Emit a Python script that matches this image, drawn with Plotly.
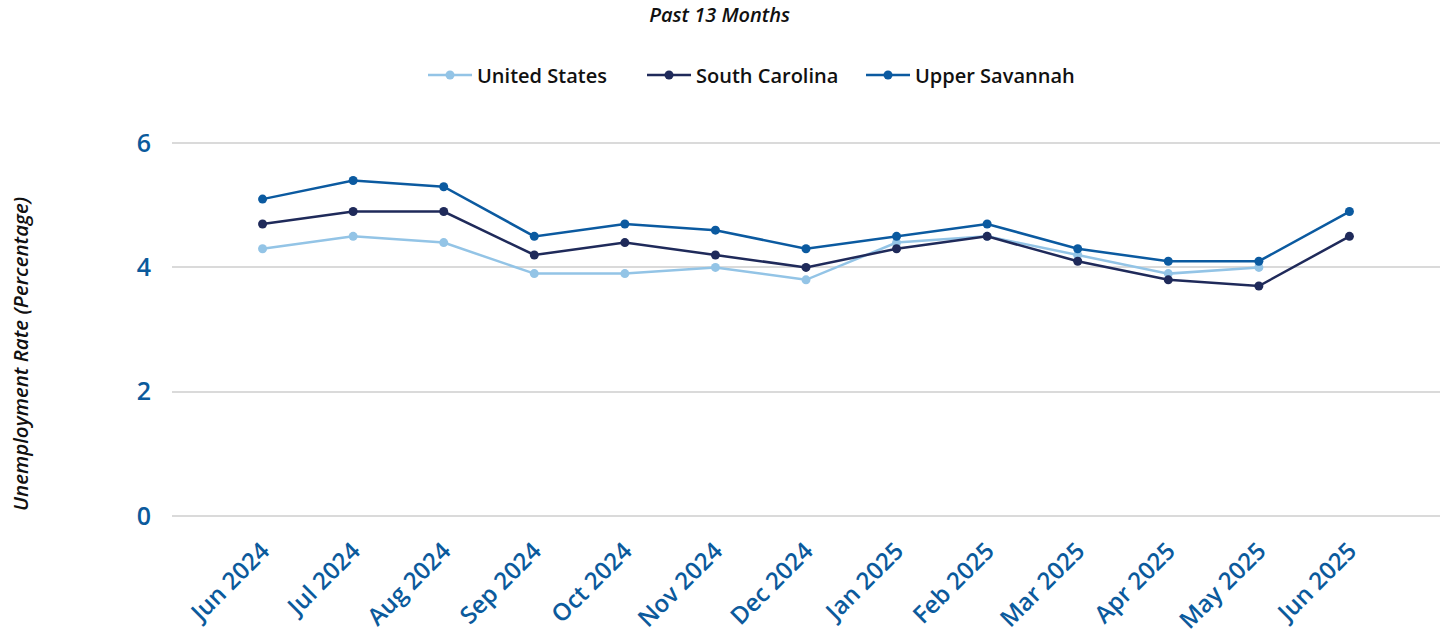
import plotly.graph_objects as go

months = ["Jun 2024", "Jul 2024", "Aug 2024", "Sep 2024", "Oct 2024", "Nov 2024", "Dec 2024",
          "Jan 2025", "Feb 2025", "Mar 2025", "Apr 2025", "May 2025", "Jun 2025"]
united_states = [4.3, 4.5, 4.4, 3.9, 3.9, 4.0, 3.8, 4.4, 4.5, 4.2, 3.9, 4.0, None]
south_carolina = [4.7, 4.9, 4.9, 4.2, 4.4, 4.2, 4.0, 4.3, 4.5, 4.1, 3.8, 3.7, 4.5]
upper_savannah = [5.1, 5.4, 5.3, 4.5, 4.7, 4.6, 4.3, 4.5, 4.7, 4.3, 4.1, 4.1, 4.9]
y_ticks = [0, 2, 4, 6]

FONT = "Open Sans, Noto Sans, sans-serif"
TICK_COLOR = "#0b5a9c"

series = [
    ("United States", united_states, "#93c4e6"),
    ("South Carolina", south_carolina, "#1f2a5a"),
    ("Upper Savannah", upper_savannah, "#0b5aa0"),
]

fig = go.Figure()
for name, vals, color in series:
    fig.add_trace(go.Scatter(
        x=months, y=vals, name=name, mode="lines+markers",
        line=dict(color=color, width=2.5),
        marker=dict(color=color, size=9),
        connectgaps=False,
    ))

fig.update_layout(
    width=1448, height=643,
    paper_bgcolor="white", plot_bgcolor="white",
    margin=dict(l=172, r=8, t=142, b=126, autoexpand=False),
    font=dict(family=FONT),
    title=dict(text="<i>Past 13 Months</i>", x=0.497, xref="container", xanchor="center",
               y=0.9767, yref="container", yanchor="middle",
               font=dict(size=20, color="#111111", family=FONT, weight=600)),
    legend=dict(orientation="h", x=0.519, xref="container", xanchor="center",
                y=0.8834, yref="container", yanchor="middle",
                font=dict(size=20, color="#111111", family=FONT, weight=600),
                itemwidth=44, entrywidth=160, tracegroupgap=0),
    showlegend=True,
)
fig.update_xaxes(
    type="category", range=[-1, 13], showgrid=False, showline=False, zeroline=False,
    tickangle=-45, tickfont=dict(size=24, color=TICK_COLOR, family=FONT, weight=600),
    ticks="", ticklabelstandoff=14, automargin=False,
)
fig.update_yaxes(
    range=[-0.02, 6.02], tickvals=y_ticks, showgrid=True, gridcolor="#dadada", gridwidth=2,
    zeroline=False, showline=False, automargin=False,
    tickfont=dict(size=25, color=TICK_COLOR, family=FONT, weight=600), ticklabelstandoff=20,
)
fig.add_annotation(
    text="<i>Unemployment Rate (Percentage)</i>", textangle=-90,
    xref="paper", yref="paper", x=-0.1199, y=0.4347, xanchor="center", yanchor="middle",
    showarrow=False, font=dict(size=20.5, color="#111111", family=FONT, weight=600),
)
fig.write_html("out.html", config={"displayModeBar": False},
               post_script="document.body.style.margin='0px';")
